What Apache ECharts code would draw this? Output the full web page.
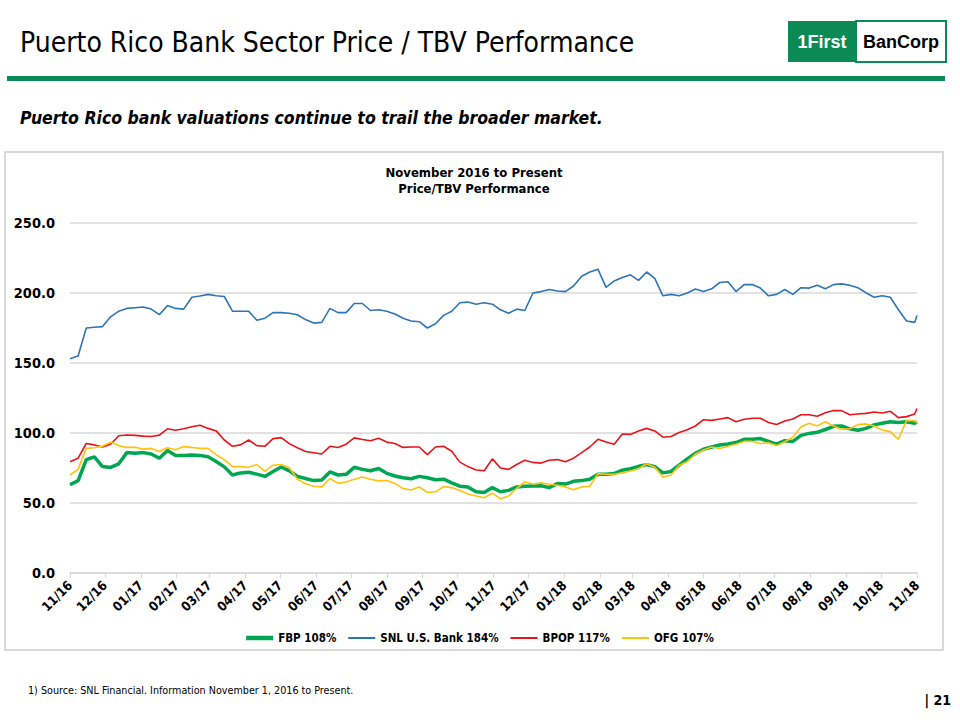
<!DOCTYPE html>
<html><head><meta charset="utf-8">
<script src="https://cdn.jsdelivr.net/npm/echarts@6/dist/echarts.min.js"></script>
<style>html,body{margin:0;padding:0;background:#fff}#c{width:960px;height:720px}</style>
</head><body><div id="c"></div><script>
// ---- data ----
var startDate = [2016, 11, 1];     // first weekly observation
var endDate = [2018, 11, 1];       // last observation
var tickLabels = ['11/16','12/16','01/17','02/17','03/17','04/17','05/17','06/17','07/17','08/17','09/17','10/17','11/17','12/17','01/18','02/18','03/18','04/18','05/18','06/18','07/18','08/18','09/18','10/18','11/18'];
var seriesNames = ['FBP 108%', 'SNL U.S. Bank 184%', 'BPOP 117%', 'OFG 107%'];
var fbp = [63,66,81,83,76,75.4,78,86,85.5,86,85,82,87.5,84,84,84.2,84,83,79.6,75.8,70,
  71.5,72,70.6,69,72.5,75.7,73,69,67.5,66,66.5,72.2,70,70.5,75.5,74,73,74.6,71.2,69.3,68,67.3,
  69,68,66.6,67,64.4,62,61.5,58,57.5,61,58,59,61.5,62,62.2,62.3,61,63.9,63.5,65.5,66,
  67,70.5,70.5,71,73.4,74.5,76.2,77.4,76,71.5,72.5,77,81.5,85.5,88.4,90,91.4,92.1,93.2,95.5,95.5,96,
  94,92,94.5,94,98.3,99.7,100.5,102.5,104.8,105,103,102,103.3,105.8,107,108,107.5,108,107,108];
var snl = [153,155,175,175.5,176,183,187,189,189.5,190,188.5,184.5,191,189,188.5,197,197.8,199,198,197.5,187,
  187,187,180.5,182,186,186,185.5,184.5,181,178.5,179,189,186,186,192.5,192.5,187.5,188,187,185,182,180,
  179.5,175,178,184,187,193,193.5,192,193,192,188,185.5,188.5,187.5,200,201,202.5,201.4,201,205,212,
  215,217,204,208.6,211,213,209,215,210.5,198,199,198,200,202.8,201,203,207.5,208,201,206,206,203.5,
  198,199,202.5,199,203.8,203.5,205.5,203,206,206.5,205.5,203.8,200.2,197,198,197,188,180,179,184];
var bpop = [79.5,82,92.5,91.5,90,92,98,98.6,98.3,97.8,97.5,98.5,103,102,103,104.5,105.5,103.3,101.5,95,90.5,
  91.5,95,91,90.5,96,96.7,92.4,89.5,86.8,85.9,85,90.5,89.7,92,96.5,95.3,94.5,96.2,93.5,92.5,89.7,90,
  90,84.5,90,90.5,87,79.2,76,73.6,73,81.5,75,74,77.5,80.5,79,78.5,80.5,81,79.5,82,86,
  90,95.5,93.5,92,99.3,99,101.5,103.3,101.5,97,97.5,100.3,102.3,105,109.5,109,110,111,108,109.8,110.5,110.5,
  107.5,106,108.5,110,113,113,112,114.5,116,116,113,113.6,114,115,114.3,115.5,111,111.7,113.6,117.5];
var ofg = [70,74,89,89.5,90.5,93.5,91,89.7,89.8,88.5,89,86.8,89.5,88,90.3,89.7,89,89,84.5,81,76,
  76,75.5,77.5,72.6,77,77.5,75.2,67,63.7,62,61.5,67.5,64,65,67,68.6,67,65.8,66,64,60.3,59.3,
  61.5,57.5,58,61.7,61,59,56.5,55,53.8,57,53,55,60.5,65,63.5,64.4,63.4,62.7,61.5,59.5,61.5,
  62,71,70.5,70.5,71.5,72.8,74.5,78,75.5,68.5,70,77,79.5,85,87.8,90,89,90.5,92,94,94,92.5,
  93,91,93.8,97,104.3,107,105,108,105,102.6,103,106,106.5,105,102.2,101,95.5,109,108.8,107];

// ---- build dates ----
function ts(y, m, d) { return Date.UTC(y, m - 1, d); }
var DAY = 86400000;
var t0 = ts(startDate[0], startDate[1], startDate[2]);
var tEnd = ts(endDate[0], endDate[1], endDate[2]);
var dates = [];
for (var i = 0; i < fbp.length - 1; i++) dates.push(t0 + i * 7 * DAY);
dates.push(tEnd);
var tickTimes = tickLabels.map(function (l) {
  var mm = parseInt(l.slice(0, 2), 10), yy = 2000 + parseInt(l.slice(3), 10);
  return ts(yy, mm, 1);
});
function pairs(arr) { return arr.map(function (v, k) { return [dates[k], v]; }); }

var FONT = '"DejaVu Sans Condensed", "Liberation Sans Narrow", "DejaVu Sans", sans-serif';
var GREEN = '#0B8A55';
var colors = ['#00A651', '#2E75B6', '#E8141A', '#FFC20E'];
var thick = 'path://M0,0h27v4.5h-27z', thin = 'path://M0,0h27v2h-27z';

var chart = echarts.init(document.getElementById('c'), null, { renderer: 'svg' });
chart.setOption({
  animation: false,
  backgroundColor: '#fff',
  color: colors,
  textStyle: { fontFamily: FONT },
  grid: { left: 70, right: 43, top: 223, bottom: 147, containLabel: false },
  xAxis: {
    type: 'value', min: t0, max: tEnd, scale: true,
    axisLine: { show: true, onZero: false, lineStyle: { color: '#D9D9D9', width: 1.5 } },
    axisTick: { show: true, customValues: tickTimes, length: 5, lineStyle: { color: '#D9D9D9' } },
    splitLine: { show: false },
    axisLabel: {
      customValues: tickTimes, rotate: 45, margin: 10,
      fontFamily: FONT, fontWeight: 'bold', fontSize: 13, color: '#000',
      formatter: function (v) {
        var k = -1;
        for (var j = 0; j < tickTimes.length; j++) if (Math.abs(tickTimes[j] - v) < DAY) k = j;
        return k >= 0 ? tickLabels[k] : '';
      }
    }
  },
  yAxis: {
    type: 'value', min: 0, max: 250, interval: 50,
    axisLine: { show: false }, axisTick: { show: false },
    splitLine: { lineStyle: { color: '#D9D9D9', width: 1.5 } },
    axisLabel: { formatter: function (v) { return v.toFixed(1); }, fontFamily: FONT, fontWeight: 'bold', fontSize: 14.5, color: '#000', margin: 15 }
  },
  legend: {
    left: 'center', top: 627, itemWidth: 27, itemHeight: 12, itemGap: 12,
    textStyle: { fontFamily: FONT, fontWeight: 'bold', fontSize: 11.5, color: '#000' },
    data: [
      { name: seriesNames[0], icon: thick },
      { name: seriesNames[1], icon: thin },
      { name: seriesNames[2], icon: thin },
      { name: seriesNames[3], icon: thin }
    ]
  },
  series: [
    { name: seriesNames[0], type: 'line', data: pairs(fbp), showSymbol: false, symbol: 'none', lineStyle: { width: 3.5 }, z: 3 },
    { name: seriesNames[1], type: 'line', data: pairs(snl), showSymbol: false, symbol: 'none', lineStyle: { width: 1.6 }, z: 2 },
    { name: seriesNames[2], type: 'line', data: pairs(bpop), showSymbol: false, symbol: 'none', lineStyle: { width: 1.6 }, z: 2 },
    { name: seriesNames[3], type: 'line', data: pairs(ofg), showSymbol: false, symbol: 'none', lineStyle: { width: 1.6 }, z: 4 }
  ],
  graphic: [
    { type: 'text', x: 20, y: 42, style: { text: 'Puerto Rico Bank Sector Price / TBV Performance', fontFamily: FONT, fontSize: 28, fill: '#000', verticalAlign: 'middle' } },
    { type: 'rect', shape: { x: 7, y: 76, width: 938, height: 5 }, style: { fill: GREEN } },
    { type: 'rect', shape: { x: 788, y: 21, width: 68, height: 41 }, style: { fill: GREEN } },
    { type: 'rect', shape: { x: 856, y: 21, width: 90, height: 41 }, style: { fill: '#fff', stroke: GREEN, lineWidth: 2 } },
    { type: 'text', x: 822, y: 42, style: { text: '1First', fontFamily: '"Liberation Sans", Arial, sans-serif', fontWeight: 'bold', fontSize: 18, fill: '#fff', align: 'center', verticalAlign: 'middle' } },
    { type: 'text', x: 901, y: 42, style: { text: 'BanCorp', fontFamily: '"Liberation Sans", Arial, sans-serif', fontWeight: 'bold', fontSize: 18, fill: '#000', align: 'center', verticalAlign: 'middle' } },
    { type: 'text', x: 20, y: 118, style: { text: 'Puerto Rico bank valuations continue to trail the broader market.', fontFamily: FONT, fontStyle: 'italic', fontWeight: 'bold', fontSize: 17.5, fill: '#000', verticalAlign: 'middle' } },
    { type: 'rect', z: -10, shape: { x: 5, y: 152, width: 938, height: 498 }, style: { fill: 'none', stroke: '#D9D9D9', lineWidth: 2 } },
    { type: 'text', x: 474, y: 172, style: { text: 'November 2016 to Present', fontFamily: FONT, fontWeight: 'bold', fontSize: 13, fill: '#000', align: 'center', verticalAlign: 'middle' } },
    { type: 'text', x: 474, y: 188, style: { text: 'Price/TBV Performance', fontFamily: FONT, fontWeight: 'bold', fontSize: 13, fill: '#000', align: 'center', verticalAlign: 'middle' } },
    { type: 'text', x: 28, y: 690, style: { text: '1) Source: SNL Financial. Information November 1, 2016 to Present.', fontFamily: FONT, fontSize: 10.7, fill: '#000', verticalAlign: 'middle' } },
    { type: 'text', x: 951, y: 700, style: { text: '| 21', fontFamily: FONT, fontWeight: 'bold', fontSize: 14, fill: '#000', align: 'right', verticalAlign: 'middle' } }
  ]
});
</script></body></html>
